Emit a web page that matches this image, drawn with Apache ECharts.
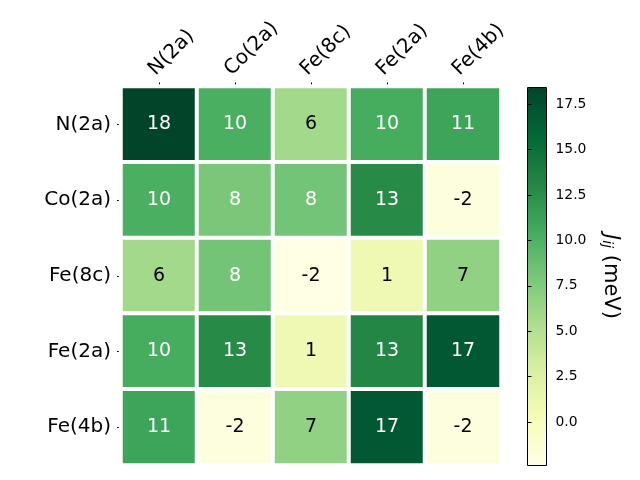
<!DOCTYPE html>
<html><head><meta charset="utf-8">
<script src="https://cdn.jsdelivr.net/npm/echarts@6/dist/echarts.min.js"></script>
<style>html,body{margin:0;padding:0;background:#fff}#c{width:640px;height:480px}</style>
</head><body><div id="c"></div>
<script>
const sites = ['N(2a)', 'Co(2a)', 'Fe(8c)', 'Fe(2a)', 'Fe(4b)'];
const rowN    = [18.4, 10.2, 5.9, 10.4, 11.0];
const rowCo   = [10.2, 7.9, 8.2, 12.8, -1.9];
const rowFe8c = [5.9, 8.2, -2.35, 0.8, 6.8];
const rowFe2a = [10.4, 12.8, 0.8, 13.1, 16.9];
const rowFe4b = [11.0, -1.9, 6.8, 16.9, -1.9];
const rows = [rowN, rowCo, rowFe8c, rowFe2a, rowFe4b];
const cbMin = -2.39, cbMax = 18.42;
const cbTicks = [0, 2.5, 5, 7.5, 10, 12.5, 15, 17.5];
const ylgn = ['#ffffe5','#f7fcb9','#d9f0a3','#addd8e','#78c679','#41ab5d','#238443','#006837','#004529'];

const data = [];
rows.forEach((r, i) => r.forEach((v, j) => data.push({value: [j, i, v], label: {color: v > 7.5 ? '#fff' : '#000'}})));

const F = 'DejaVu Sans';
const chart = echarts.init(document.getElementById('c'), null, {renderer: 'canvas'});
chart.setOption({
  animation: false,
  textStyle: {fontFamily: F},
  grid: [
    {left: 121, top: 86.5, width: 380, height: 378.5},
    {left: 527.5, top: 87.5, width: 19, height: 378, show: true, borderColor: '#000', borderWidth: 1, backgroundColor: 'transparent', z: 6}
  ],
  xAxis: [
    {type: 'category', data: sites, position: 'top', gridIndex: 0,
     axisLine: {show: false}, splitLine: {show: false},
     axisTick: {show: true, alignWithLabel: true, length: 4, lineStyle: {color: '#000'}},
     axisLabel: {rotate: -45, fontSize: 20, color: '#000', margin: 7, verticalAlign: 'bottom', fontFamily: F}},
    {type: 'value', gridIndex: 1, show: false, min: 0, max: 1}
  ],
  yAxis: [
    {type: 'category', data: sites, inverse: true, gridIndex: 0,
     axisLine: {show: false}, splitLine: {show: false},
     axisTick: {show: true, alignWithLabel: true, length: 4, lineStyle: {color: '#000'}},
     axisLabel: {fontSize: 20, color: '#000', margin: 10, padding: [4, 0, 0, 0], fontFamily: F}},
    {type: 'value', gridIndex: 1, position: 'right', min: cbMin, max: cbMax, z: 6,
     axisLine: {show: false}, splitLine: {show: false},
     axisTick: {show: true, length: 4, customValues: cbTicks, lineStyle: {color: '#000'}},
     axisLabel: {customValues: cbTicks, fontSize: 13.9, color: '#000', margin: 9, fontFamily: F,
                 formatter: v => v.toFixed(1)},
     name: '{j|J}{s|ij} (meV)', nameLocation: 'middle', nameRotate: -90, nameGap: 53,
     nameTextStyle: {fontSize: 21, color: '#000', fontFamily: F,
       rich: {j: {fontSize: 21, fontStyle: 'italic', fontFamily: F, color: '#000'},
              s: {fontSize: 14, fontStyle: 'italic', fontFamily: F, color: '#000', verticalAlign: 'bottom', padding: [7, 0, 0, 0]}}}}
  ],
  visualMap: {
    type: 'continuous', min: cbMin, max: cbMax, calculable: false, orient: 'vertical',
    left: 527.5, top: 87.5, itemWidth: 19, itemHeight: 378, padding: 0, seriesIndex: 0,
    inRange: {color: ylgn}, text: null, hoverLink: false
  },
  series: [{
    type: 'heatmap', xAxisIndex: 0, yAxisIndex: 0, data: data,
    itemStyle: {borderColor: '#fff', borderWidth: 4},
    label: {show: true, fontSize: 19, fontFamily: F,
      formatter: p => String(Math.round(p.value[2]))},
    emphasis: {disabled: true}
  }]
});
</script></body></html>
